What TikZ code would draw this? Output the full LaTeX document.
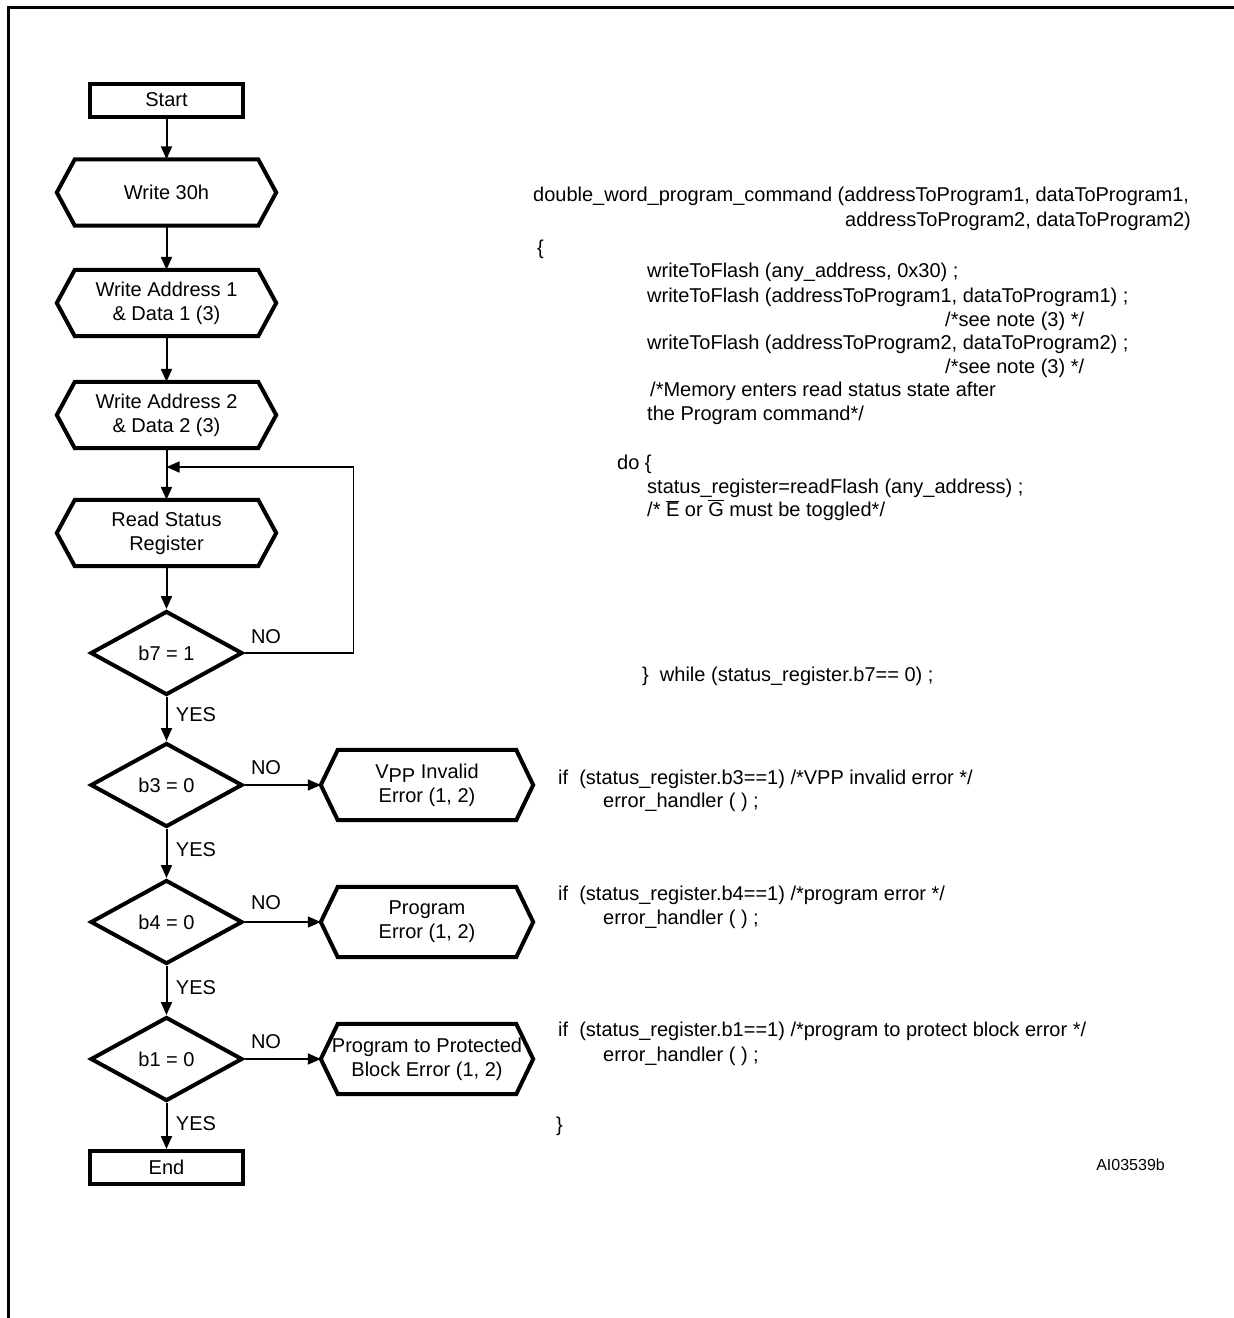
\documentclass[tikz,border=0pt]{standalone}
\usepackage{fontspec}
\setmainfont{Liberation Sans}
\usetikzlibrary{arrows.meta,shapes.geometric,calc}
\newcommand\hexoutline[2]{%
  \draw[hexline] (#1.west) -- ([xshift=#2]#1.north west) -- ([xshift=-#2]#1.north east)
    -- (#1.east) -- ([xshift=-#2]#1.south east) -- ([xshift=#2]#1.south west) -- cycle;}
\begin{document}
\begin{tikzpicture}[x=1pt,y=-1pt,
  every node/.style={font=\fontsize{20}{24}\selectfont, inner sep=0pt},
  termbox/.style={draw, line width=4pt, minimum width=153pt, minimum height=33pt},
  hexbody/.style={minimum width=219pt, minimum height=66pt, align=center},
  rbody/.style={minimum width=212pt, minimum height=70pt, align=center},
  hexline/.style={line width=4pt, line join=miter},
  dia/.style={diamond, draw, line width=4pt, minimum width=152pt, minimum height=84pt},
  conn/.style={line width=2pt, -{Triangle[length=13pt,width=11pt]}},
  lbl/.style={anchor=center},
  code/.style={anchor=base west},
]
\useasboundingbox (0,0) rectangle (1234,1318);
% frame
\draw[line width=3pt] (1234,7) -- (8,7) -- (8,1318);

% flowchart nodes
\node[termbox] (start) at (166.5,100) {Start};
\node[hexbody] (w30) at (166.5,192.5) {Write 30h};
\hexoutline{w30}{18}
\node[hexbody] (wa1) at (166.5,303) {Write Address 1\\\& Data 1 (3)};
\hexoutline{wa1}{18}
\node[hexbody] (wa2) at (166.5,415) {Write Address 2\\\& Data 2 (3)};
\hexoutline{wa2}{18}
\node[hexbody] (rsr) at (166.5,533) {Read Status\\Register};
\hexoutline{rsr}{18}
\node[dia] (b7) at (166.5,653) {b7 = 1};
\node[dia] (b3) at (166.5,785) {b3 = 0};
\node[dia] (b4) at (166.5,922) {b4 = 0};
\node[dia] (b1) at (166.5,1059) {b1 = 0};
\node[termbox] (endn) at (166.5,1167.5) {End};

\node[rbody] (vpp) at (427,785) {V\raisebox{-0.4ex}{PP} Invalid\\Error (1, 2)};
\hexoutline{vpp}{17}
\node[rbody] (perr) at (427,922) {Program\\Error (1, 2)};
\hexoutline{perr}{17}
\node[rbody] (pblk) at (427,1059) {Program to Protected\\Block Error (1, 2)};
\hexoutline{pblk}{17}

% connectors
\draw[conn] (start) -- (w30);
\draw[conn] (w30) -- (wa1);
\draw[conn] (wa1) -- (wa2);
\draw[conn] (wa2) -- (rsr);
\draw[conn] (rsr) -- (b7);
\coordinate (jn) at (166.5,467);
\draw[conn, line width=1.6pt] (b7.east) -- ++(109,0) |- (jn);
\draw[conn] (b7) -- (b3);
\draw[conn] (b3) -- (b4);
\draw[conn] (b4) -- (b1);
\draw[conn] (b1) -- (endn);
\draw[conn, line width=1.6pt] (b3.east) -- (vpp.west);
\draw[conn, line width=1.6pt] (b4.east) -- (perr.west);
\draw[conn, line width=1.6pt] (b1.east) -- (pblk.west);

% labels
\node[lbl] (no7) at (266,637) {NO};
\node[lbl] (no3) at (266,768) {NO};
\node[lbl] (no4) at (266,903) {NO};
\node[lbl] (no1) at (266,1042) {NO};
\node[lbl] (y7) at (196,715) {YES};
\node[lbl] (y3) at (196,850) {YES};
\node[lbl] (y4) at (196,988) {YES};
\node[lbl] (y1) at (196,1124) {YES};

% code
\node[code] (c1) at (533,201) {double\_word\_program\_command (addressToProgram1, dataToProgram1,};
\node[code] (c2) at (845,226) {addressToProgram2, dataToProgram2)};
\node[code] (c3) at (537,254) {\{};
\node[code] (c4) at (647,277) {writeToFlash (any\_address, 0x30) ;};
\node[code] (c5) at (647,302) {writeToFlash (addressToProgram1, dataToProgram1) ;};
\node[code] (c6) at (945,326) {/*see note (3) */};
\node[code] (c7) at (647,349) {writeToFlash (addressToProgram2, dataToProgram2) ;};
\node[code] (c8) at (945,373) {/*see note (3) */};
\node[code] (c9) at (650,396) {/*Memory enters read status state after};
\node[code] (c10) at (647,420) {the Program command*/};
\node[code] (c11) at (617,469) {do \{};
\node[code] (c12) at (647,493) {status\_register=readFlash (any\_address) ;};
\node[code] (c13) at (647,516) {/* $\overline{\hbox{E}}$ or $\overline{\hbox{G}}$ must be toggled*/};
\node[code] (c14) at (642,681) {\}~~while (status\_register.b7== 0) ;};
\node[code] (c15) at (558,784) {if~~(status\_register.b3==1) /*VPP invalid error */};
\node[code] (c16) at (603,807) {error\_handler ( ) ;};
\node[code] (c17) at (558,900) {if~~(status\_register.b4==1) /*program error */};
\node[code] (c18) at (603,924) {error\_handler ( ) ;};
\node[code] (c19) at (558,1036) {if~~(status\_register.b1==1) /*program to protect block error */};
\node[code] (c20) at (603,1061) {error\_handler ( ) ;};
\node[code] (c21) at (556,1131) {\}};
\node[anchor=base east, font=\fontsize{16}{18}\selectfont] (ai) at (1165,1170) {AI03539b};
\end{tikzpicture}
\end{document}
